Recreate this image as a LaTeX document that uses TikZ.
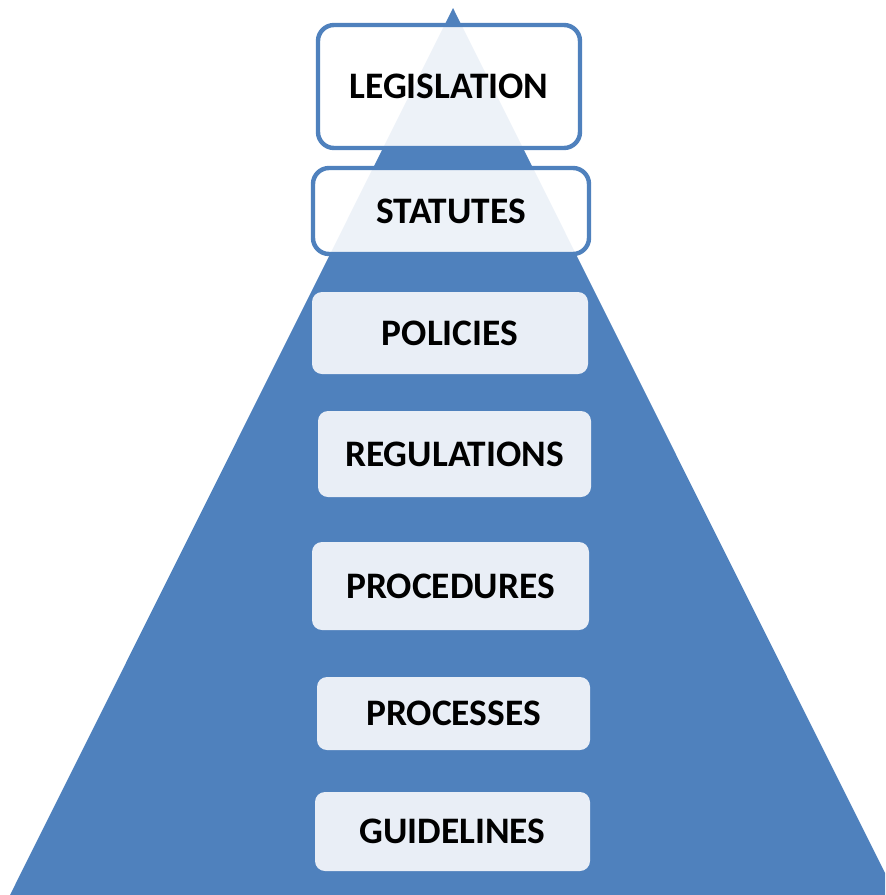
\documentclass[tikz,border=0pt]{standalone}
\usepackage{fontspec}
\setmainfont{Carlito}
\usepackage{xcolor}
\usetikzlibrary{positioning}
\definecolor{pyramidblue}{RGB}{79,129,189}
\definecolor{paleblue}{RGB}{233,238,246}

\begin{document}
\begin{tikzpicture}[
        x=0.5pt, y=-0.5pt,
        level/.style={
            rectangle,
            rounded corners=5pt,
            inner sep=0pt,
            text centered,
            fill=paleblue,
            font=\fontsize{18.7}{23}\selectfont\bfseries,
            align=center
        },
        toplevel/.style={
            level,
            rounded corners=8pt,
            draw=pyramidblue,
            line width=2.2pt,
            fill=white,
            fill opacity=0.9,
            text opacity=1
        }
    ]
    \useasboundingbox (0,0) rectangle (885,895);
    \clip (0,0) rectangle (885,895);

    % Pyramid
    \fill[pyramidblue] (10,895) -- (453,8) -- (896,895) -- cycle;

    % Upper levels (framed)
    \node[toplevel, minimum width=131pt, minimum height=61.5pt] (legislation) at (449,86.5) {LEGISLATION};
    \node[toplevel, minimum width=138pt, minimum height=43pt] (statutes) at (451,211) {STATUTES};

    % Lower levels
    \node[level, minimum width=138pt, minimum height=41pt] (policies) at (450,333) {POLICIES};
    \node[level, minimum width=136.5pt, minimum height=43pt] (regulations) at (454.5,454) {REGULATIONS};
    \node[level, minimum width=138.5pt, minimum height=44pt] (procedures) at (450.5,586) {PROCEDURES};
    \node[level, minimum width=136.5pt, minimum height=36.5pt] (processes) at (453.5,713.5) {PROCESSES};
    \node[level, minimum width=137.5pt, minimum height=39.5pt] (guidelines) at (452.5,831.5) {GUIDELINES};

\end{tikzpicture}
\end{document}
